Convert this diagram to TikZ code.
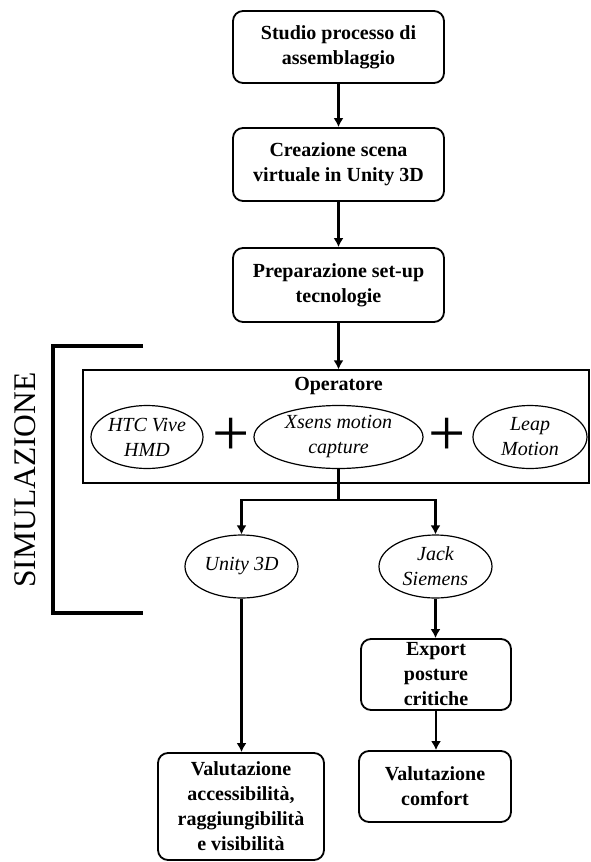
\documentclass[tikz,border=0pt]{standalone}
\usepackage{fontspec}
\setmainfont{Liberation Serif}
\usetikzlibrary{arrows.meta,shapes}

\begin{document}
\begin{tikzpicture}[>={Latex[length=9pt,width=10pt]},line join=miter,x=1pt,y=-1pt,
  fase/.style={draw,rounded corners=10pt,line width=1.8pt,align=center,inner sep=0pt,
    font=\bfseries\fontsize{20}{25}\selectfont},
  strumento/.style={draw,ellipse,line width=1.2pt,align=center,inner xsep=0pt,inner ysep=-3pt,
    minimum height=63pt,font=\itshape\fontsize{20}{25}\selectfont},
  freccia/.style={->,line width=2.4pt},
  piu/.style={inner sep=0pt,font=\fontsize{66}{66}\selectfont}]
\useasboundingbox (0,0) rectangle (591,862);

% Node: fasi preliminari
\node[fase,minimum width=211pt,minimum height=72pt] (studio) at (338.5,47) {Studio processo di\\assemblaggio};
\node[fase,minimum width=211pt,minimum height=73pt] (scena) at (338.5,164.5) {Creazione scena\\virtuale in Unity 3D};
\node[fase,minimum width=211pt,minimum height=74pt] (setup) at (338.5,285) {Preparazione set-up\\tecnologie};

% Node: SIMULAZIONE
\node[rotate=90,inner sep=0pt,font=\fontsize{31.5}{32}\selectfont] (simulazione) at (25.5,480) {SIMULAZIONE};
\draw[line width=3.5pt] (143,346) -- (53,346) -- (53,613) -- (143,613);

% Node: Operatore
\node[draw,line width=1.2pt,minimum width=506pt,minimum height=113pt,inner sep=0pt] (operatore) at (336,426.5) {};
\node[inner sep=0pt,font=\bfseries\fontsize{20}{25}\selectfont] (optitolo) at (338.5,386) {Operatore};
\node[strumento,minimum width=112pt] (htc) at (147,437) {HTC Vive\\HMD};
\node[piu] (piu1) at (231,437) {+};
\node[strumento,minimum width=169pt] (xsens) at (338.5,437) {Xsens motion\\capture};
\node[piu] (piu2) at (447,437) {+};
\node[strumento,minimum width=114pt] (leap) at (530,437) {Leap\\Motion};

% Node: software
\node[strumento,minimum width=113pt] (unity) at (241.5,566.5) {Unity 3D};
\node[strumento,minimum width=113pt] (jack) at (435.5,566.5) {Jack\\Siemens};

% Node: valutazioni
\node[fase,minimum width=166pt,minimum height=107pt] (accessibilita) at (241,806.5) {Valutazione\\accessibilità,\\raggiungibilità\\e visibilità};
\node[fase,minimum width=150pt,minimum height=71pt] (export) at (436,674.5) {Export\\posture\\critiche};
\node[fase,minimum width=152pt,minimum height=71pt] (comfort) at (435,786.5) {Valutazione\\comfort};

% Edge: studio -> scena -> setup -> operatore
\draw[freccia] (studio) -- (scena);
\draw[freccia] (scena) -- (setup);
\draw[freccia] (setup.south) -- (setup.south |- operatore.north);

% Edge: xsens -> unity, jack
\coordinate (ramo) at (338.5,500);
\draw[line width=2.4pt] (xsens.south) -- (ramo);
\draw[freccia] (ramo) -| (unity.north);
\draw[freccia] (ramo) -| (jack.north);

% Edge: unity -> accessibilita, jack -> export -> comfort
\draw[freccia] (unity) -- (unity |- accessibilita.north);
\draw[freccia] (jack) -- (jack |- export.north);
\draw[freccia] (export) -- (export |- comfort.north);

\end{tikzpicture}
\end{document}
